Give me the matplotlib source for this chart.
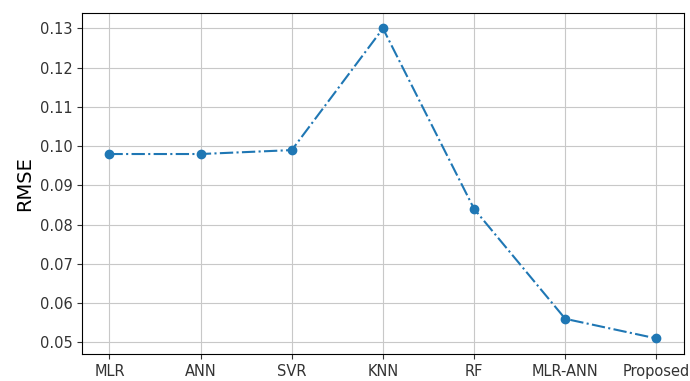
import matplotlib
matplotlib.use('Agg')
import matplotlib.pyplot as plt

models = ['MLR', 'ANN', 'SVR', 'KNN', 'RF', 'MLR-ANN', 'Proposed']
rmse = [0.098, 0.098, 0.099, 0.130, 0.084, 0.056, 0.051]

fig, ax = plt.subplots(figsize=(6.9, 3.81), dpi=100)
ax.plot(models, rmse, '-.', marker='o', color='#1f77b4')
ax.set_ylabel('RMSE', fontsize=14)
ax.set_yticks([0.05, 0.06, 0.07, 0.08, 0.09, 0.10, 0.11, 0.12, 0.13])
ax.tick_params(labelsize=10.5, colors='#333333')
ax.grid(True, color='#c8c8c8')
plt.subplots_adjust(left=0.119, right=0.991, top=0.966, bottom=0.071)
plt.savefig('out.png')
